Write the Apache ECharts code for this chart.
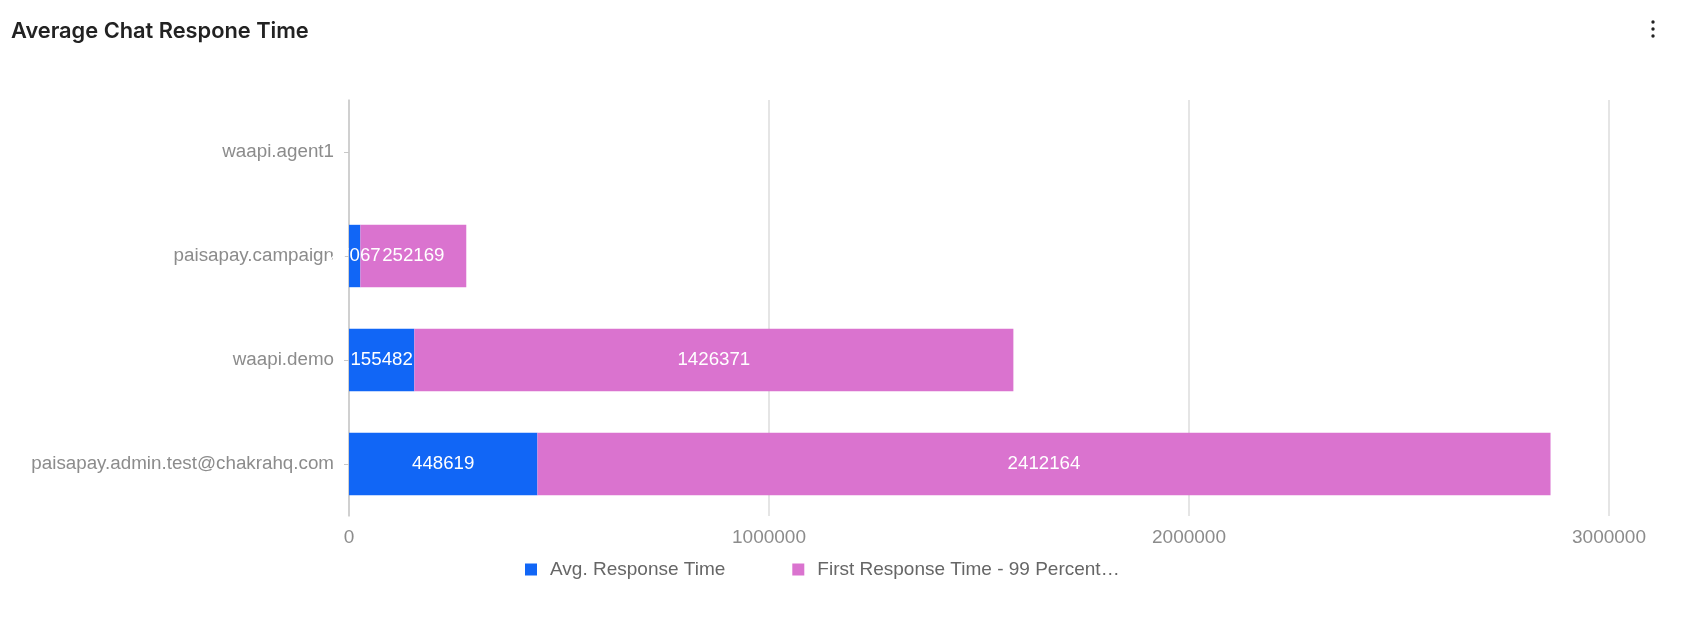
<!DOCTYPE html>
<html>
<head>
<meta charset="utf-8">
<script src="https://cdn.jsdelivr.net/npm/echarts@6/dist/echarts.min.js"></script>
<style>
html,body{margin:0;padding:0;background:#fff;}
#chart{width:1682px;height:632px;}
</style>
</head>
<body>
<div id="chart"></div>
<script>
// ---- data ----
var categories = ['waapi.agent1', 'paisapay.campaign', 'waapi.demo', 'paisapay.admin.test@chakrahq.com'];
var seriesNames = ['Avg. Response Time', 'First Response Time - 99 Percentile'];
var avgResponse = [null, 27067, 155482, 448619];
var firstResponse99 = [null, 252169, 1426371, 2412164];
var xTicks = [0, 1000000, 2000000, 3000000];

var chart = echarts.init(document.getElementById('chart'));
var labelFont = '"Liberation Sans", Helvetica, Arial, sans-serif';
var legendMaxChars = 32;

var barLabel = {
  show: true,
  position: 'inside',
  color: '#ffffff',
  fontSize: 18.7,
  fontFamily: labelFont,
  formatter: function (p) { return String(p.value); }
};

chart.setOption({
  animation: false,
  backgroundColor: '#ffffff',
  title: {
    text: 'Average Chat Respone Time',
    left: 6,
    top: 15,
    textStyle: {
      fontFamily: 'Inter, Roboto, sans-serif',
      fontWeight: 600,
      fontSize: 21.8,
      color: '#222222'
    }
  },
  graphic: [
    { type: 'circle', shape: { cx: 1653, cy: 22, r: 1.7 }, style: { fill: '#222' } },
    { type: 'circle', shape: { cx: 1653, cy: 29, r: 1.7 }, style: { fill: '#222' } },
    { type: 'circle', shape: { cx: 1653, cy: 36, r: 1.7 }, style: { fill: '#222' } }
  ],
  grid: { left: 349, right: 73, top: 100, bottom: 116, containLabel: false },
  legend: {
    left: 520,
    top: 555,
    itemWidth: 12,
    itemHeight: 12,
    itemGap: 67,
    icon: 'rect',
    formatter: function (name) {
      return name.length > legendMaxChars ? name.slice(0, legendMaxChars) + '\u2026' : name;
    },
    textStyle: {
      fontFamily: labelFont,
      fontSize: 19,
      color: '#666666',
      padding: [0, 0, 0, 8]
    },
    data: seriesNames
  },
  xAxis: {
    type: 'value',
    min: xTicks[0],
    max: xTicks[xTicks.length - 1],
    interval: xTicks[1] - xTicks[0],
    axisLine: { show: false },
    axisTick: { show: false },
    splitLine: { show: true, lineStyle: { color: '#dddddd', width: 1.5 } },
    axisLabel: {
      margin: 12,
      color: '#8c8c8c',
      fontSize: 19,
      fontFamily: labelFont,
      formatter: function (v) { return String(v); }
    }
  },
  yAxis: {
    type: 'category',
    inverse: true,
    data: categories,
    axisLine: { show: true, lineStyle: { color: '#c8c8c8', width: 1.5 } },
    axisTick: { show: true, alignWithLabel: true, length: 5, lineStyle: { color: '#c8c8c8' } },
    splitLine: { show: false },
    axisLabel: {
      margin: 15,
      color: '#8c8c8c',
      fontSize: 18.8,
      fontFamily: labelFont
    }
  },
  series: [
    {
      name: seriesNames[0],
      type: 'bar',
      stack: 'total',
      barWidth: '60%',
      data: avgResponse,
      itemStyle: { color: '#1166f6' },
      label: barLabel
    },
    {
      name: seriesNames[1],
      type: 'bar',
      stack: 'total',
      barWidth: '60%',
      data: firstResponse99,
      itemStyle: { color: '#da73cf' },
      label: barLabel
    }
  ]
});
</script>
</body>
</html>
